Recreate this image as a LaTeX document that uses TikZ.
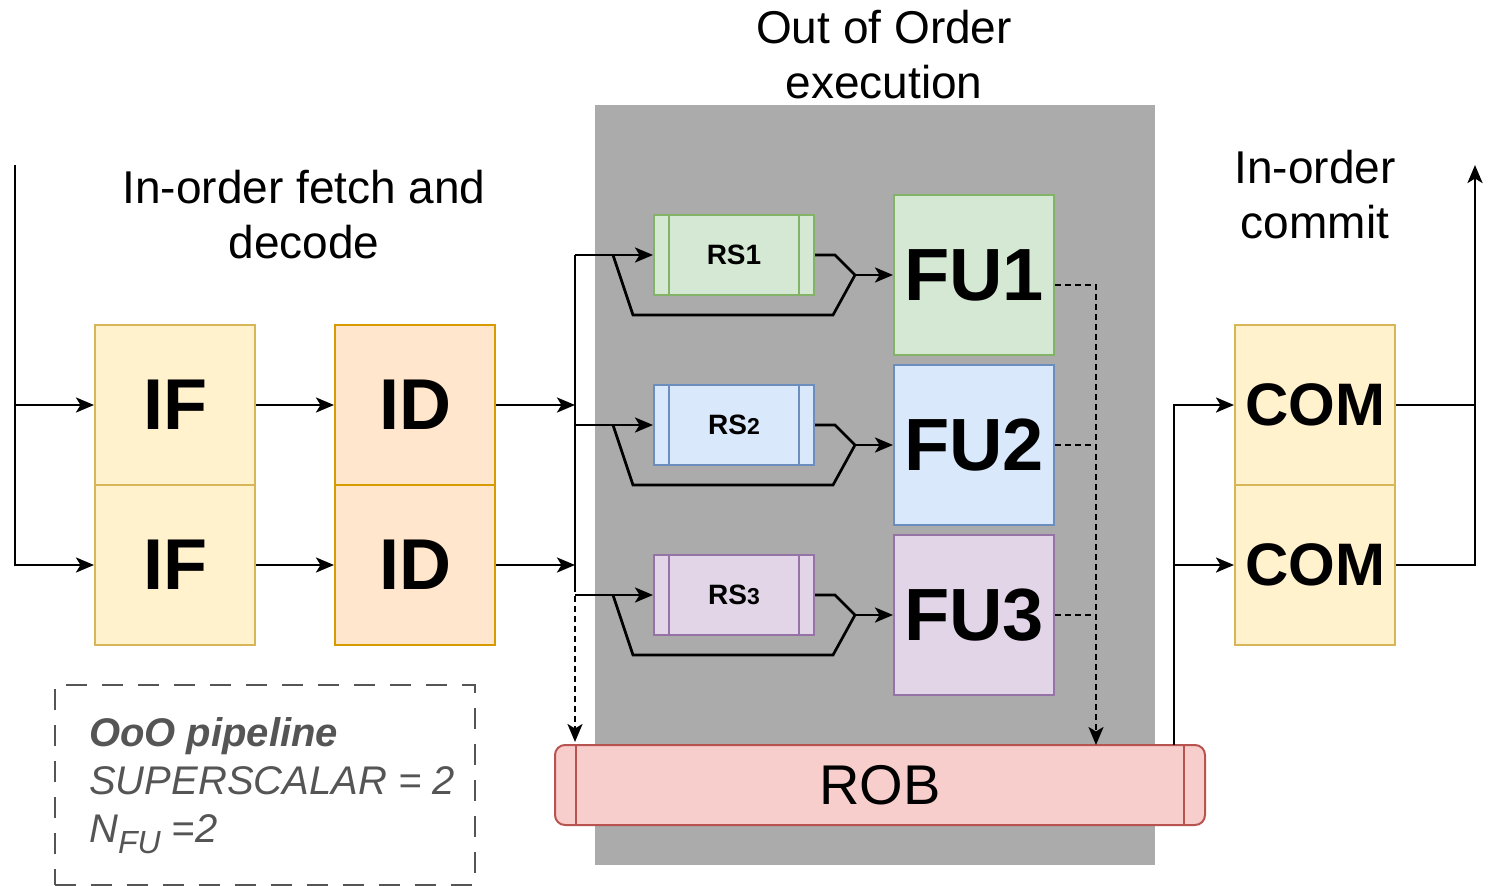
\documentclass[tikz,border=0pt]{standalone}
\usepackage{fontspec}
\setmainfont{Liberation Sans}
\usetikzlibrary{arrows.meta,calc}
\definecolor{oooGray}{HTML}{ABABAB}
\definecolor{ifFill}{HTML}{FFF2CC}
\definecolor{ifLine}{HTML}{D6B656}
\definecolor{idFill}{HTML}{FFE6CC}
\definecolor{idLine}{HTML}{D79B00}
\definecolor{gFill}{HTML}{D5E8D4}
\definecolor{gLine}{HTML}{82B366}
\definecolor{bFill}{HTML}{DAE8FC}
\definecolor{bLine}{HTML}{6C8EBF}
\definecolor{pFill}{HTML}{E1D5E7}
\definecolor{pLine}{HTML}{9673A6}
\definecolor{rFill}{HTML}{F8CECC}
\definecolor{rLine}{HTML}{B85450}
\definecolor{legendGray}{HTML}{555555}
\begin{document}
\begin{tikzpicture}[x=1pt,y=-1pt,
  stage/.style={draw, line width=2pt, minimum width=160pt, minimum height=160pt, inner sep=0pt,
    font=\fontsize{72}{86}\selectfont\bfseries},
  comstage/.style={stage, fill=ifFill, draw=ifLine, font=\fontsize{60}{72}\selectfont\bfseries},
  fustage/.style={stage, font=\fontsize{74}{88}\selectfont\bfseries},
  rsbox/.style={draw, line width=2pt, minimum width=160pt, minimum height=80pt, inner sep=0pt,
    font=\fontsize{28}{34}\selectfont\bfseries},
  title/.style={align=center, anchor=north, inner sep=0pt, font=\fontsize{46}{55}\selectfont},
  wire/.style={line width=2.7pt},
  conn/.style={line width=2.7pt, -{Stealth[length=18pt,width=15pt,inset=4.5pt]}},
  dwire/.style={line width=2.4pt, dash pattern=on 6pt off 4pt},
  dconn/.style={dwire, -{Stealth[length=18pt,width=15pt,inset=4.5pt]}},
]
\useasboundingbox (0,0) rectangle (1492,886);

% background area of out-of-order execution
\node[fill=oooGray, minimum width=560pt, minimum height=760pt, inner sep=0pt] (ooo) at (875,485) {};

% titles
\node[title] (tFetch) at (304,169.5) {In-order fetch and\\decode};
\node[title] (tOoO) at (884,9.5) {Out of Order\\execution};
\node[title] (tCommit) at (1315,149.5) {In-order\\commit};

% fetch / decode stages
\node[stage, fill=ifFill, draw=ifLine] (if1) at (175,405) {IF};
\node[stage, fill=ifFill, draw=ifLine] (if2) at (175,565) {IF};
\node[stage, fill=idFill, draw=idLine] (id1) at (415,405) {ID};
\node[stage, fill=idFill, draw=idLine] (id2) at (415,565) {ID};

% reservation stations
\node[rsbox, fill=gFill, draw=gLine] (rs1) at (734,255) {RS1};
\node[rsbox, fill=bFill, draw=bLine] (rs2) at (734,425) {RS{\fontsize{23}{28}\selectfont 2}};
\node[rsbox, fill=pFill, draw=pLine] (rs3) at (734,595) {RS{\fontsize{23}{28}\selectfont 3}};
\foreach \r/\c in {rs1/gLine, rs2/bLine, rs3/pLine}{
  \draw[line width=2pt, \c] ($(\r.north west)+(16,0)$) -- ($(\r.south west)+(16,0)$);
  \draw[line width=2pt, \c] ($(\r.north east)+(-16,0)$) -- ($(\r.south east)+(-16,0)$);
}

% functional units
\node[fustage, fill=gFill, draw=gLine] (fu1) at (974,275) {FU1};
\node[fustage, fill=bFill, draw=bLine] (fu2) at (974,445) {FU2};
\node[fustage, fill=pFill, draw=pLine] (fu3) at (974,615) {FU3};

% commit stages
\node[comstage] (com1) at (1315,405) {COM};
\node[comstage] (com2) at (1315,565) {COM};

% reorder buffer
\node[draw=rLine, fill=rFill, line width=2pt, rounded corners=10pt, minimum width=650pt, minimum height=80pt,
  inner sep=0pt, font=\fontsize{56}{67}\selectfont] (rob) at (880,785) {ROB};
\draw[line width=2pt, rLine] ($(rob.north west)+(22,0)$) -- ($(rob.south west)+(22,0)$);
\draw[line width=2pt, rLine] ($(rob.north east)+(-22,0)$) -- ($(rob.south east)+(-22,0)$);

% legend
\node[draw=legendGray, line width=2pt, dash pattern=on 21pt off 15pt, minimum width=420pt, minimum height=200pt,
  inner sep=0pt] (legend) at (265,785) {};
\node[anchor=north west, align=left, inner sep=0pt, text=legendGray, font=\fontsize{40}{48}\selectfont\itshape]
  (legendText) at (89,717) {\textbf{OoO pipeline}\\SUPERSCALAR = 2\\N\raisebox{-11pt}{\fontsize{32}{32}\selectfont FU} =2};

% coordinates
\coordinate (inTop) at (15,165);
\coordinate (inMid) at (15,405);
\coordinate (busTop) at (575,255);
\coordinate (busA) at (575,405);
\coordinate (busB) at (575,565);
\coordinate (bus2) at (575,425);
\coordinate (bus3) at (575,595);
\coordinate (busEnd) at (575,586);
\coordinate (robL) at (575,742);
\coordinate (robIn) at (1096,745);
\coordinate (robOut) at (1174,745);
\coordinate (outTop) at (1475,165);

% input
\draw[conn] (inTop) |- (if2.west);
\draw[conn] (inMid) -- (if1.west);
\draw[conn] (if1) -- (id1);
\draw[conn] (if2) -- (id2);
\draw[conn] (id1.east) -- (busA);
\draw[conn] (id2.east) -- (busB);

% dispatch bus
\draw[wire] (busTop) -- (busEnd);
\draw[dconn] (busEnd) -- (robL);
\draw[conn] (busTop) -- (rs1.west);
\draw[conn] (bus2) -- (rs2.west);
\draw[conn] (bus3) -- (rs3.west);

% RS to FU with bypass
\foreach \r/\f in {rs1/fu1, rs2/fu2, rs3/fu3}{
  \coordinate (m\r) at ($(\r.east)+(40,20)$);
  \draw[wire] ($(\r.west)+(-40,0)$) -- ++(20,60) -- ++(200,0) -- (m\r);
  \draw[wire] (\r.east) -- ++(20,0) -- (m\r);
  \draw[conn] (m\r) -- (\f.west);
}

% FU to ROB
\draw[dconn] ($(fu1.east)+(0,10)$) -| (robIn);
\draw[dwire] (fu2.east) -- (fu2.east -| robIn);
\draw[dwire] (fu3.east) -- (fu3.east -| robIn);

% ROB to commit
\draw[conn] (robOut) |- (com1.west);
\draw[conn] (robOut) |- (com2.west);

% commit output
\draw[conn] (com2.east) -| (outTop);
\draw[wire] (com1.east) -- (com1.east -| outTop);
\end{tikzpicture}
\end{document}
